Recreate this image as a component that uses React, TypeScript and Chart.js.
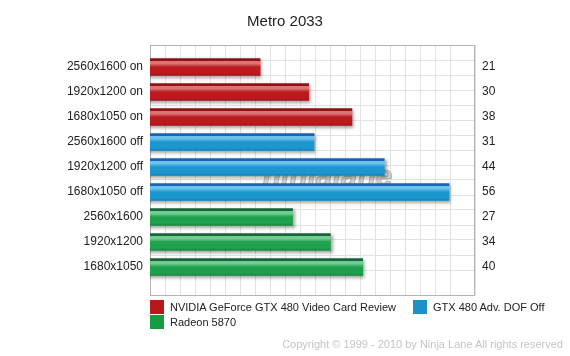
import React, { useEffect, useRef } from "react";
import { Chart, registerables } from "chart.js";

Chart.register(...registerables);

const title = "Metro 2033";
const categories = [
  "2560x1600 on",
  "1920x1200 on",
  "1680x1050 on",
  "2560x1600 off",
  "1920x1200 off",
  "1680x1050 off",
  "2560x1600",
  "1920x1200",
  "1680x1050",
];
const values = [21, 30, 38, 31, 44, 56, 27, 34, 40];
const seriesNames = [
  "NVIDIA GeForce GTX 480 Video Card Review",
  "GTX 480 Adv. DOF Off",
  "Radeon 5870",
];
const seriesRows = [
  [0, 1, 2],
  [3, 4, 5],
  [6, 7, 8],
];
const seriesColors = ["#b5191b", "#1e90c8", "#169b42"];
// dark top edge, highlight, main, bottom
const seriesGloss = [
  ["#8e1216", "#dc7476", "#bc1a1e", "#a3161a"],
  ["#1a63b6", "#6cc2ea", "#1b96cf", "#1582ba"],
  ["#16653a", "#72cc91", "#1ea04e", "#178a41"],
];
const watermark = "ninjalane";
const copyright = "Copyright \u00a9 1999 - 2010 by Ninja Lane All rights reserved";

const FONT = "'Liberation Sans', Arial, Helvetica, sans-serif";
const BAR_H = 17;

export default function App() {
  const ref = useRef<HTMLCanvasElement | null>(null);

  useEffect(() => {
    const canvas = ref.current;
    if (!canvas) return;

    const framePlugin = {
      id: "frame",
      beforeDatasetsDraw(chart: any) {
        const { ctx, chartArea: a } = chart;
        ctx.save();
        ctx.strokeStyle = "#b3b3b3";
        ctx.lineWidth = 1;
        ctx.strokeRect(a.left + 0.5, a.top + 0.5, a.right - a.left - 1, a.bottom - a.top);
        // faint watermark logo text
        ctx.font = `italic bold 30px ${FONT}`;
        ctx.textAlign = "center";
        ctx.textBaseline = "alphabetic";
        ctx.fillStyle = "rgba(175,175,175,0.55)";
        ctx.strokeStyle = "rgba(120,120,120,0.45)";
        ctx.lineWidth = 1;
        const cx = (a.left + a.right) / 2 + 15;
        ctx.fillText(watermark, cx, 186);
        ctx.strokeText(watermark, cx, 186);
        ctx.restore();
      },
      beforeDatasetDraw(chart: any) {
        const ctx = chart.ctx;
        ctx.save();
        ctx.shadowColor = "rgba(0,0,0,0.35)";
        ctx.shadowOffsetX = 2;
        ctx.shadowOffsetY = 2;
        ctx.shadowBlur = 3;
      },
      afterDatasetDraw(chart: any) {
        chart.ctx.restore();
      },
    };

    const gloss = (si: number) => (c: any) => {
      const chart = c.chart;
      const ys = chart.scales && chart.scales.y;
      if (!ys || !c.raw) return seriesColors[si];
      const yc = ys.getPixelForValue(c.raw.y);
      if (!isFinite(yc)) return seriesColors[si];
      const t = yc - BAR_H / 2;
      const g = chart.ctx.createLinearGradient(0, t, 0, t + BAR_H);
      const [dk, hl, mn, bt] = seriesGloss[si];
      g.addColorStop(0, dk);
      g.addColorStop(0.12, dk);
      g.addColorStop(0.16, hl);
      g.addColorStop(0.3, hl);
      g.addColorStop(0.5, mn);
      g.addColorStop(0.85, mn);
      g.addColorStop(1, bt);
      return g;
    };

    const chart = new Chart(canvas, {
      type: "bar",
      data: {
        datasets: seriesNames.map((name, si) => ({
          label: name,
          data: seriesRows[si].map((r) => ({ x: values[r], y: r })),
          xAxisID: "x",
          yAxisID: "y",
          backgroundColor: gloss(si),
          borderWidth: 0,
          barThickness: BAR_H,
          grouped: false,
        })),
      },
      options: {
        indexAxis: "y",
        responsive: false,
        animation: false,
        devicePixelRatio: 1,
        layout: { padding: { left: 0, right: 0, top: 0, bottom: 61 } },
        plugins: {
          legend: { display: false },
          tooltip: { enabled: false },
          title: {
            display: true,
            text: title,
            color: "#222",
            font: { family: FONT, size: 15, weight: "normal" },
            padding: { top: 13, bottom: 14 },
          },
        },
        scales: {
          x: {
            type: "linear",
            min: 0.6,
            max: 60.8,
            offset: false,
            display: false,
          },
          gx: {
            type: "linear",
            position: "bottom",
            min: 0,
            max: 325 / 15,
            offset: false,
            ticks: { display: false, stepSize: 1 },
            grid: { color: "#e2e2e2", drawTicks: false, offset: false },
            border: { display: false },
            afterFit: (s: any) => {
              s.height = 0;
            },
          },
          gy: {
            type: "linear",
            position: "left",
            reverse: true,
            min: 0,
            max: 250 / 15,
            offset: false,
            ticks: { display: false, stepSize: 1 },
            grid: { color: "#e2e2e2", drawTicks: false, offset: false },
            border: { display: false },
            afterFit: (s: any) => {
              s.width = 0;
            },
          },
          y: {
            type: "linear",
            position: "left",
            reverse: true,
            min: -0.88,
            max: 9.12,
            offset: false,
            afterBuildTicks: (s: any) => {
              s.ticks = categories.map((_, i) => ({ value: i }));
            },
            ticks: {
              color: "#222",
              font: { family: FONT, size: 12 },
              padding: 7,
              autoSkip: false,
              callback: (v: any) => categories[v as number] ?? "",
            },
            grid: { display: false, drawTicks: false, offset: false },
            border: { display: false },
            afterFit: (s: any) => {
              s.width = 150;
            },
          },
          y2: {
            type: "linear",
            position: "right",
            reverse: true,
            min: -0.88,
            max: 9.12,
            offset: false,
            afterBuildTicks: (s: any) => {
              s.ticks = categories.map((_, i) => ({ value: i }));
            },
            ticks: {
              color: "#222",
              font: { family: FONT, size: 12 },
              padding: 7,
              autoSkip: false,
              callback: (v: any) => String(values[v as number] ?? ""),
            },
            grid: { display: false, drawTicks: false, offset: false },
            border: { display: false },
            afterFit: (s: any) => {
              s.width = 95;
            },
          },
        },
      } as any,
      plugins: [framePlugin],
    });

    return () => chart.destroy();
  }, []);

  const legendPos = [
    { left: 150, top: 300 },
    { left: 413, top: 300 },
    { left: 150, top: 315 },
  ];

  return (
    <div
      style={{
        position: "fixed",
        left: 0,
        top: 0,
        width: 570,
        height: 356,
        background: "#fff",
        fontFamily: FONT,
      }}
    >
      <canvas ref={ref} width={570} height={356} style={{ display: "block", width: 570, height: 356 }} />
      {seriesNames.map((n, i) => (
        <div key={n}>
          <div
            style={{
              position: "absolute",
              left: legendPos[i].left,
              top: legendPos[i].top,
              width: 14,
              height: 14,
              background: seriesColors[i],
            }}
          />
          <div
            style={{
              position: "absolute",
              left: legendPos[i].left + 20,
              top: legendPos[i].top,
              height: 14,
              lineHeight: "14px",
              fontSize: 11,
              color: "#222",
              whiteSpace: "nowrap",
            }}
          >
            {n}
          </div>
        </div>
      ))}
      <div
        style={{
          position: "absolute",
          right: 7,
          top: 337,
          lineHeight: "14px",
          fontSize: 11,
          color: "#c4c4c4",
          whiteSpace: "nowrap",
        }}
      >
        {copyright}
      </div>
    </div>
  );
}
